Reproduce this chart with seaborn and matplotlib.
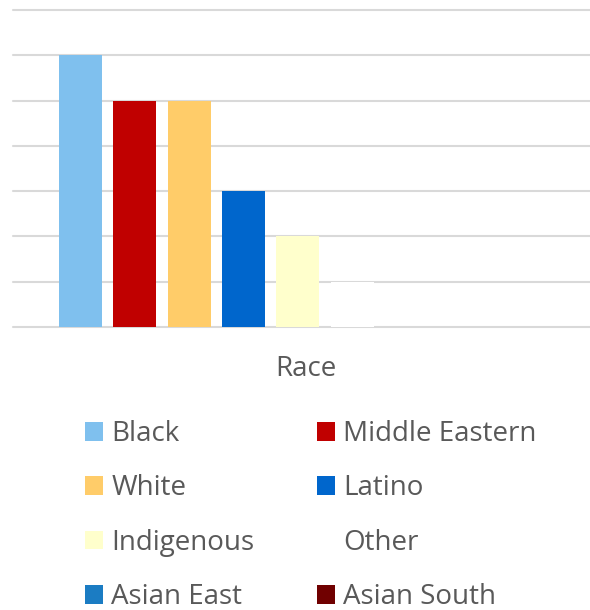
import matplotlib
matplotlib.use("Agg")
import matplotlib.pyplot as plt
import seaborn as sns
import pandas as pd

categories = ["Black", "Middle Eastern", "White", "Latino", "Indigenous", "Other", "Asian East", "Asian South"]
values = [6, 5, 5, 3, 2, 1, 0, 0]
colors = ["#7fc0ee", "#c00000", "#ffcc69", "#0066cc", "#ffffcc", "#ffffff", "#1b7cc3", "#700000"]
x_label = "Race"

sns.set_theme(style="white")
plt.rcParams["font.family"] = ["Open Sans", "DejaVu Sans"]

df = pd.DataFrame({"Race": categories, "Count": values})
palette = dict(zip(categories, colors))

fig = plt.figure(figsize=(5.9, 6.1), dpi=100)
W, H = 590, 610
ax = fig.add_axes([13 / W, (H - 327) / H, (590 - 13) / W, (327 - 10) / H])

sns.barplot(data=df, x="Race", y="Count", hue="Race", palette=palette,
            order=categories, hue_order=categories, width=0.79,
            dodge=False, legend=False, ax=ax, saturation=1,
            edgecolor="none", linewidth=0)

ax.set_ylim(0, 7)
ax.set_xlim(-1.24, 9.37)
ax.set_yticks(range(0, 8))
ax.yaxis.grid(True, color="#d9d9d9", linewidth=1.5)
ax.set_axisbelow(True)
for line in ax.get_ygridlines():
    line.set_clip_on(False)
for s in ax.spines.values():
    s.set_visible(False)
ax.tick_params(left=False, bottom=False, labelleft=False, labelbottom=False)
ax.set_ylabel("")
ax.set_xlabel(x_label, fontsize=20, color="#595959")
ax.xaxis.set_label_coords((306 - 13) / (590 - 13), -(369 - 327) / (327 - 10), transform=ax.transAxes)
ax.xaxis.label.set_va("center")

handles = [plt.Rectangle((0, 0), 1, 1, facecolor=palette[c], edgecolor="none") for c in categories]
order = [0, 2, 4, 6, 1, 3, 5, 7]
leg = fig.legend([handles[i] for i in order], [categories[i] for i in order],
                 ncol=2, loc="upper left", bbox_to_anchor=(85 / W, 1 - 420 / H),
                 frameon=False, fontsize=20, handlelength=0.65, handleheight=0.65,
                 handletextpad=0.3, columnspacing=2.25, labelspacing=0.95, borderpad=0,
                 labelcolor="#595959", borderaxespad=0)

fig.savefig("out.png", dpi=100)
